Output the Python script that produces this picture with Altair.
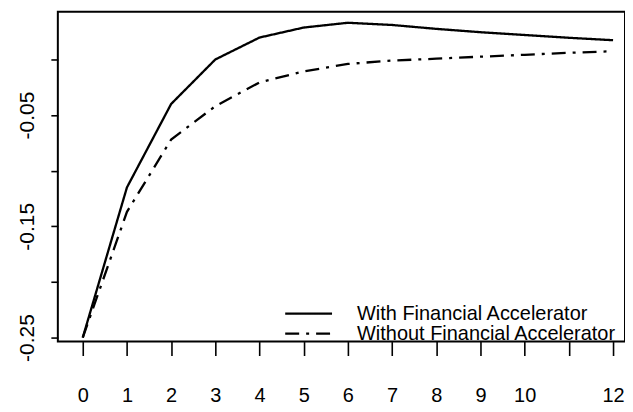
import altair as alt
import pandas as pd

# ---- data ----
periods = list(range(13))
with_fa = [-0.25, -0.115, -0.040, 0.000, 0.0197, 0.0287, 0.033, 0.031, 0.0275, 0.0245, 0.022, 0.0195, 0.0173]
without_fa = [-0.25, -0.137, -0.072, -0.042, -0.0206, -0.0107, -0.004, -0.001, 0.0007, 0.0025, 0.0042, 0.006, 0.0074]
series_names = ["With Financial Accelerator", "Without Financial Accelerator"]

x_ticks = list(range(13))
x_labels = ["0", "1", "2", "3", "4", "5", "6", "7", "8", "9", "10", "", "12"]
y_ticks = [-0.25, -0.20, -0.15, -0.10, -0.05, 0.0]
y_labels = ["-0.25", "", "-0.15", "", "-0.05", ""]

rows = []
for name, vals in zip(series_names, [with_fa, without_fa]):
    for p, v in zip(periods, vals):
        rows.append({"period": p, "value": v, "series": name})
df = pd.DataFrame(rows)

FONT = "Liberation Sans"

x_expr = "[" + ",".join("'%s'" % s for s in x_labels) + "][datum.value]"
y_map = "{" + ",".join("'%d':'%s'" % (round(v * 100), s) for v, s in zip(y_ticks, y_labels)) + "}"
y_expr = y_map + "['' + round(datum.value*100)] || ''"

chart = alt.Chart(df).mark_line(color="black", strokeWidth=2.3, clip=True).encode(
    x=alt.X("period:Q",
            scale=alt.Scale(domain=[-0.564, 12.27], nice=False, zero=False),
            axis=alt.Axis(values=x_ticks, labelExpr=x_expr, title=None, grid=False, domain=False,
                          tickSize=14, tickWidth=1.6, tickColor="black",
                          labelFontSize=20, labelFont=FONT, labelColor="black",
                          labelPadding=30, labelFlush=False, labelOverlap=False)),
    y=alt.Y("value:Q",
            scale=alt.Scale(domain=[-0.2536, 0.043], nice=False, zero=False),
            axis=alt.Axis(values=y_ticks, labelExpr=y_expr, title=None, grid=False, domain=False,
                          tickSize=7, tickWidth=1.6, tickColor="black",
                          labelFontSize=21, labelFont=FONT, labelColor="black",
                          labelAngle=270, labelAlign="center", labelBaseline="alphabetic",
                          labelPadding=17, labelFlush=False, labelOverlap=False)),
    strokeDash=alt.StrokeDash("series:N",
                              scale=alt.Scale(domain=series_names, range=[[1, 0], [14, 7, 3, 7]]),
                              legend=alt.Legend(title=None, orient="none", legendX=241.6, legendY=293,
                                                symbolType="M-4,0H4", symbolSize=138,
                                                symbolStrokeWidth=2.3, symbolStrokeColor="black",
                                                labelFontSize=20, labelFont=FONT, labelColor="black",
                                                labelLimit=0, labelOffset=38.6, rowPadding=0, padding=0)),
    detail="series:N",
).properties(
    width=569, height=331,
    background="white",
    autosize=alt.AutoSizeParams(type="none"),
    padding={"left": 50, "top": 3, "right": 0, "bottom": 62},
).configure_view(
    stroke="black", strokeWidth=2
)

chart.save("out.html", embed_options={"renderer": "svg", "actions": False})
